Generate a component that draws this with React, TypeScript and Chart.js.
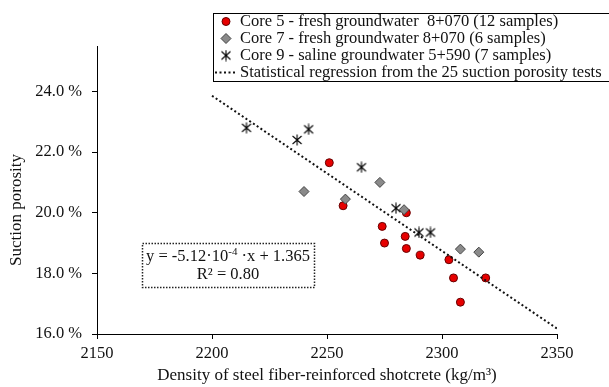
import React, { useEffect, useRef } from 'react';
import { Chart, registerables } from 'chart.js';

Chart.register(...registerables);

// ---- data ----
const core5X = [2251, 2257, 2274, 2275, 2284.5, 2284, 2284.5, 2290.5, 2303, 2305, 2308, 2319];
const core5Y = [21.65, 20.23, 19.55, 19.0, 20.0, 19.22, 18.82, 18.6, 18.45, 17.85, 17.05, 17.85];

const core7X = [2240, 2258, 2273, 2283.5, 2308, 2316];
const core7Y = [20.7, 20.45, 21.0, 20.1, 18.8, 18.7];

const core9X = [2215, 2237, 2242, 2265, 2280, 2290, 2295];
const core9Y = [22.8, 22.4, 22.75, 21.5, 20.15, 19.35, 19.35];

const regressionX = [2200, 2350];
const regressionY = [23.86, 16.18];

const xTicks = [2150, 2200, 2250, 2300, 2350];
const yTicks = [16, 18, 20, 22, 24];

const legendLabels = [
  'Core 5 - fresh groundwater  8+070 (12 samples)',
  'Core 7 - fresh groundwater 8+070 (6 samples)',
  'Core 9 - saline groundwater 5+590 (7 samples)',
  'Statistical regression from the 25 suction porosity tests',
];

const xTitle = 'Density of steel fiber-reinforced shotcrete (kg/m³)';
const yTitle = 'Suction porosity';
const eqMain = 'y = -5.12·10';
const eqSup = '-4';
const eqTail = ' ·x + 1.365';
const r2Text = 'R² = 0.80';

const FONT = "'Liberation Serif', 'Times New Roman', serif";
const TEXT = '#111';

function makeAsterisk(): HTMLCanvasElement {
  const c = document.createElement('canvas');
  c.width = 12;
  c.height = 12;
  const g = c.getContext('2d')!;
  g.strokeStyle = '#000';
  g.lineWidth = 1.1;
  g.beginPath();
  g.moveTo(1.5, 2);
  g.lineTo(10.5, 10);
  g.moveTo(10.5, 2);
  g.lineTo(1.5, 10);
  g.moveTo(6, 0.5);
  g.lineTo(6, 11.5);
  g.stroke();
  return c;
}

function drawDiamond(ctx: CanvasRenderingContext2D, x: number, y: number, r: number) {
  ctx.beginPath();
  ctx.moveTo(x, y - r);
  ctx.lineTo(x + r, y);
  ctx.lineTo(x, y + r);
  ctx.lineTo(x - r, y);
  ctx.closePath();
  ctx.fillStyle = '#8a8a8a';
  ctx.fill();
  ctx.strokeStyle = '#444';
  ctx.lineWidth = 1;
  ctx.stroke();
}

export default function App() {
  const ref = useRef<HTMLCanvasElement | null>(null);

  useEffect(() => {
    if (!ref.current) return;
    const star = makeAsterisk();

    const overlay = {
      id: 'overlay',
      afterDraw(chart: any) {
        const ctx: CanvasRenderingContext2D = chart.ctx;
        ctx.save();
        // axis titles
        ctx.fillStyle = TEXT;
        ctx.font = `17px ${FONT}`;
        ctx.textAlign = 'center';
        ctx.textBaseline = 'middle';
        ctx.fillText(xTitle, 327, 376);
        ctx.save();
        ctx.translate(17, 210);
        ctx.rotate(-Math.PI / 2);
        ctx.fillText(yTitle, 0, 0);
        ctx.restore();

        // equation box
        ctx.save();
        ctx.setLineDash([1.5, 1.5]);
        ctx.strokeStyle = '#222';
        ctx.lineWidth = 1.5;
        ctx.strokeRect(142.5, 243.5, 172, 44);
        ctx.restore();
        ctx.font = `16.5px ${FONT}`;
        const w1 = ctx.measureText(eqMain).width;
        ctx.font = `11px ${FONT}`;
        const w2 = ctx.measureText(eqSup).width;
        ctx.font = `16.5px ${FONT}`;
        const w3 = ctx.measureText(eqTail).width;
        const tot = w1 + w2 + w3;
        let sx = 228 - tot / 2;
        ctx.textAlign = 'left';
        ctx.fillText(eqMain, sx, 257);
        ctx.font = `11px ${FONT}`;
        ctx.fillText(eqSup, sx + w1, 252);
        ctx.font = `16.5px ${FONT}`;
        ctx.fillText(eqTail, sx + w1 + w2, 257);
        ctx.textAlign = 'center';
        ctx.fillText(r2Text, 228, 275);

        // legend
        ctx.fillStyle = '#fff';
        ctx.fillRect(213, 13, 400, 68);
        ctx.strokeStyle = '#000';
        ctx.lineWidth = 1;
        ctx.strokeRect(213.5, 13.5, 400, 68);
        const mx = 226;
        legendLabels.forEach((label, i) => {
          const cy = 21.5 + 17 * i;
          if (i === 0) {
            ctx.beginPath();
            ctx.arc(mx, cy, 4, 0, Math.PI * 2);
            ctx.fillStyle = '#e60000';
            ctx.fill();
            ctx.strokeStyle = '#600';
            ctx.lineWidth = 1;
            ctx.stroke();
          } else if (i === 1) {
            drawDiamond(ctx, mx, cy, 5);
          } else if (i === 2) {
            ctx.drawImage(star, mx - 6, cy - 6);
          } else {
            ctx.save();
            ctx.setLineDash([2, 2.5]);
            ctx.strokeStyle = '#111';
            ctx.lineWidth = 2;
            ctx.beginPath();
            ctx.moveTo(215, cy);
            ctx.lineTo(237, cy);
            ctx.stroke();
            ctx.restore();
          }
          ctx.fillStyle = TEXT;
          ctx.font = `16.5px ${FONT}`;
          ctx.textAlign = 'left';
          ctx.textBaseline = 'middle';
          ctx.fillText(label, 240, cy + 0.5);
        });
        ctx.restore();
      },
    };

    const tickFont = { family: FONT, size: 16.5 };

    const chart = new Chart(ref.current, {
      type: 'scatter',
      data: {
        datasets: [
          {
            label: legendLabels[0],
            data: core5X.map((x, i) => ({ x, y: core5Y[i] })),
            pointStyle: 'circle',
            pointRadius: 4,
            backgroundColor: '#e60000',
            borderColor: '#600',
            borderWidth: 1,
            order: 4,
          },
          {
            label: legendLabels[1],
            data: core7X.map((x, i) => ({ x, y: core7Y[i] })),
            pointStyle: 'rectRot',
            pointRadius: 5,
            backgroundColor: '#8a8a8a',
            borderColor: '#444',
            borderWidth: 1,
            order: 3,
          },
          {
            label: legendLabels[2],
            data: core9X.map((x, i) => ({ x, y: core9Y[i] })),
            pointStyle: star as any,
            pointRadius: 6,
            order: 2,
          },
          {
            label: legendLabels[3],
            type: 'line' as any,
            data: regressionX.map((x, i) => ({ x, y: regressionY[i] })),
            showLine: true,
            borderColor: '#111',
            borderWidth: 2,
            borderDash: [2, 2.5],
            pointRadius: 0,
            fill: false,
            order: 1,
          } as any,
        ],
      },
      options: {
        responsive: false,
        animation: false,
        layout: { padding: { top: 46, right: 52, left: 0, bottom: 0 } },
        plugins: {
          legend: { display: false },
          tooltip: { enabled: false },
          title: { display: false },
        },
        scales: {
          x: {
            type: 'linear',
            min: 2150,
            max: 2350,
            afterBuildTicks: (s: any) => {
              s.ticks = xTicks.map((v) => ({ value: v }));
            },
            afterFit: (s: any) => {
              s.height = 53;
            },
            ticks: {
              font: tickFont,
              color: TEXT,
              padding: 5,
              maxRotation: 0,
              callback: (v: any) => String(v),
            },
            grid: { drawOnChartArea: false, drawTicks: true, tickLength: 5, color: '#000' },
            border: { display: true, color: '#000', width: 1 },
          },
          y: {
            type: 'linear',
            min: 16,
            max: 25.5,
            afterBuildTicks: (s: any) => {
              s.ticks = yTicks.map((v) => ({ value: v }));
            },
            afterFit: (s: any) => {
              s.width = 97;
            },
            ticks: {
              font: tickFont,
              color: TEXT,
              padding: 10,
              callback: (v: any) => `${Number(v).toFixed(1)} %`,
            },
            grid: { drawOnChartArea: false, drawTicks: true, tickLength: 5, color: '#000' },
            border: { display: true, color: '#000', width: 1 },
          },
        },
      },
      plugins: [overlay],
    });

    return () => chart.destroy();
  }, []);

  return (
    <div style={{ position: 'fixed', left: 0, top: 0, width: 609, height: 387, background: '#fff' }}>
      <canvas ref={ref} width={609} height={387} style={{ width: 609, height: 387, display: 'block' }} />
    </div>
  );
}
